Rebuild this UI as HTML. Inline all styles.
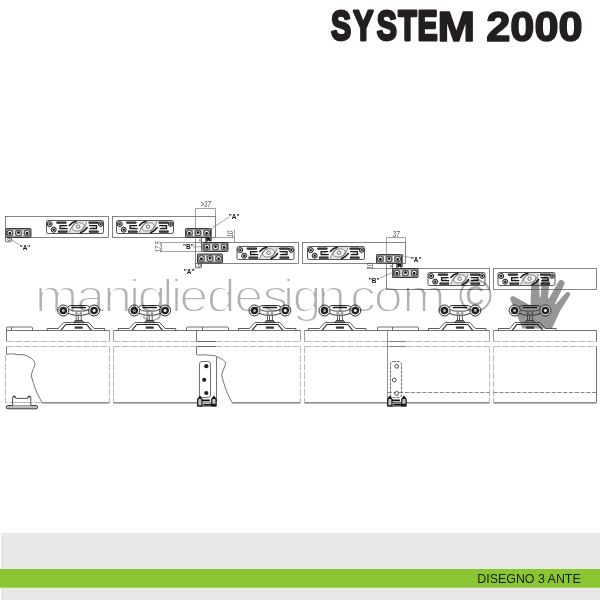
<!DOCTYPE html>
<html lang="it">
<head>
<meta charset="utf-8">
<title>SYSTEM 2000 - Disegno 3 ante</title>
<style>
html,body{margin:0;padding:0;background:#fff;}
body{width:600px;height:600px;overflow:hidden;position:relative;font-family:"Liberation Sans",sans-serif;}
svg{position:absolute;left:0;top:0;display:block;}
text{font-family:"Liberation Sans",sans-serif;}
.ln{fill:none;stroke:#454545;stroke-width:.75;}
.lt{fill:none;stroke:#666;stroke-width:.6;}
.rl{fill:none;stroke:#5c5c5c;stroke-width:.75;}
.ds{fill:none;stroke:#a9a9a9;stroke-width:.8;stroke-dasharray:7 1.5;}
.sl{fill:none;stroke:#888;stroke-width:.8;}
.lab{font-size:6.4px;font-weight:bold;fill:#161616;text-anchor:middle;}
.dim{font-size:8.8px;fill:#555;text-anchor:middle;font-style:italic;}
.wm{fill:#b1b1b1;stroke:#fff;mix-blend-mode:multiply;}
</style>
</head>
<body>
<svg width="600" height="600" viewBox="0 0 600 600" role="img" aria-label="SYSTEM 2000 - disegno 3 ante">
<defs>
<g id="pl">
<rect x="0" y="0" width="57" height="13" rx="1.6" fill="none" stroke="#3a3a3a" stroke-width=".85"/>
<path d="M23.2 12.6 C21.8 8.6 25.8 2.4 30.8 .4 H39.8 C41.4 4.4 37.8 10.4 32.8 12.6 Z" fill="#e2e2e2"/>
<ellipse cx="31.6" cy="6.4" rx="6.2" ry="4" transform="rotate(-14 31.6 6.4)" fill="#f4f4f4" stroke="#555" stroke-width=".6"/>
<path d="M22.8 5 C24.2 3.2 26.8 1.3 29.6 .7" fill="none" stroke="#1a1a1a" stroke-width="1.5" stroke-linecap="round"/>
<path d="M34.2 12.3 C37 11.2 39.2 9.2 40.6 7" fill="none" stroke="#1a1a1a" stroke-width="1.5" stroke-linecap="round"/>
<path d="M22.4 12.2 C23.8 8.6 26.8 4.2 30.8 .6 M32.8 12.6 C36.4 9.6 39.4 5.2 40.4 1" fill="none" stroke="#444" stroke-width=".6"/>
<circle cx="31.6" cy="6.2" r="1.7" fill="#fff" stroke="#333" stroke-width=".7"/>
<g fill="#1a1a1a">
<rect x="9.6" y=".9" width="10.6" height="2.3" rx="1.1"/>
<rect x="11.4" y="9.9" width="9.8" height="2.3" rx=".7"/>
<rect x="41.8" y=".9" width="10.6" height="2.3" rx="1.1"/>
<rect x="42.4" y="9.9" width="9.8" height="2.3" rx=".7"/>
</g>
<path d="M11 2.05 H19 M12.6 11.05 H20 M43 2.05 H51 M43.6 11.05 H51" fill="none" stroke="#777" stroke-width=".4"/>
<path d="M20.6 5.1 H13.6 V8.1 H21.2" fill="none" stroke="#1a1a1a" stroke-width="1.3"/>
<path d="M14 6.6 H18.6" fill="none" stroke="#555" stroke-width=".6"/>
<path d="M42.6 5.1 H50 V8.1 H43.2" fill="none" stroke="#1a1a1a" stroke-width="1.3"/>
<path d="M45 6.6 H49.6" fill="none" stroke="#555" stroke-width=".6"/>
<circle cx="3.2" cy="3.6" r="2.5" fill="#ddd" stroke="#1a1a1a" stroke-width="1"/>
<circle cx="3.2" cy="3.6" r="1.2" fill="#1a1a1a"/>
<circle cx="7.2" cy="9.2" r="2.5" fill="#ddd" stroke="#1a1a1a" stroke-width="1"/>
<circle cx="7.2" cy="9.2" r="1.2" fill="#1a1a1a"/>
<circle cx="54.2" cy="3.6" r="2.3" fill="#ddd" stroke="#1a1a1a" stroke-width="1"/>
<circle cx="54.2" cy="3.6" r="1.1" fill="#1a1a1a"/>
</g>
<g id="br">
<rect x="0" y="0" width="25" height="9" rx=".8" fill="#979797" stroke="#2a2a2a" stroke-width=".9"/>
<rect x="7.5" y="1.5" width="1.3" height="6" fill="#f4f4f4"/>
<rect x="16.2" y="1.5" width="1.3" height="6" fill="#f4f4f4"/>
<circle cx="3.9" cy="4.5" r="2.9" fill="#dedede" stroke="#222" stroke-width=".8"/>
<circle cx="12.5" cy="4.5" r="2.9" fill="#dedede" stroke="#222" stroke-width=".8"/>
<circle cx="21.1" cy="4.5" r="2.9" fill="#dedede" stroke="#222" stroke-width=".8"/>
<circle cx="3.9" cy="4.9" r="1.35" fill="#111"/>
<circle cx="12.5" cy="4.1" r="1.35" fill="#111"/>
<circle cx="21.1" cy="4.9" r="1.35" fill="#111"/>
</g>
<g id="tr">
<path d="M-31.5 20 V18 H-20.5 L-15 12 H10 L15.5 18 H26 V20" fill="none" stroke="#333" stroke-width=".8" stroke-linejoin="round"/>
<path d="M-17.6 19.6 L-13 14 H8 L12.6 19.6" fill="none" stroke="#222" stroke-width="1.1"/>
<rect x="-4" y="16" width="8" height="2.2" fill="#333"/>
<path d="M-2.5 4.6 V10 M2.5 4.6 V10 M-.4 4.6 V10" fill="none" stroke="#333" stroke-width=".8"/>
<path d="M-5.2 12.2 L-3.6 10 H3.6 L5.2 12.2 Z" fill="#777" stroke="#2a2a2a" stroke-width=".8" stroke-linejoin="round"/>
<path d="M-11.4 -3 C-9.6 -4.6 -8.6 -5 -6.6 -5 H6.6 C8.6 -5 9.6 -4.6 11.4 -3 M-11 3 C-8 3.2 -6.6 4.6 -3.6 4.6 H3.6 C6.6 4.6 8 3.2 11 3" fill="none" stroke="#2a2a2a" stroke-width="1"/>
<path d="M-6.6 -3 H6.6" fill="none" stroke="#1a1a1a" stroke-width="1.5" stroke-linecap="round"/>
<path d="M-9.6 -1.4 C-8 .2 -6 .6 -4 .6 H4 C6 .6 8 .2 9.6 -1.4" fill="none" stroke="#333" stroke-width=".9"/>
<path d="M-3.4 2.6 H-1 M1 2.6 H3.4" fill="none" stroke="#222" stroke-width=".9"/>
<circle cx="-15.4" cy="0" r="5.5" fill="#fff" fill-opacity=".6" stroke="#2a2a2a" stroke-width="1"/>
<circle cx="-15.4" cy="0" r="3.8" fill="#222"/>
<circle cx="-15.4" cy="0" r="1.5" fill="#b4b4b4"/>
<circle cx="15.4" cy="0" r="5.5" fill="#fff" fill-opacity=".6" stroke="#2a2a2a" stroke-width="1"/>
<circle cx="15.4" cy="0" r="3.8" fill="#222"/>
<circle cx="15.4" cy="0" r="1.5" fill="#f4f4f4"/>
</g>
<g id="fg">
<path d="M.4 10.2 V3.6 L2.5 .6 L4.7 3.6 V10.2 Z M14.4 10.2 V3.6 L16.6 .6 L18.8 3.6 V10.2 Z" fill="#c4c4c4" stroke="#111" stroke-width="1.2" stroke-linejoin="round"/>
<path d="M1.2 3.2 L2.5 1.2 L3.9 3.2 Z M15.2 3.2 L16.6 1.2 L18 3.2 Z" fill="#111"/>
<path d="M4.7 4.6 H12.6 M6 8.8 H18.4" fill="none" stroke="#111" stroke-width="1.7"/>
<path d="M4.7 6.6 H14.4" fill="none" stroke="#555" stroke-width=".7"/>
<path d="M.4 10.2 H18.8" fill="none" stroke="#111" stroke-width=".9"/>
</g>
</defs>
<rect x="0" y="0" width="600" height="600" fill="#fff"/>
<rect x="1" y="533" width="599" height="67" fill="#eae8e7"/>
<rect x="0" y="569" width="600" height="18.7" fill="#89c632"/>
<text x="477.3" y="583" font-size="12.25" fill="#1c1c1a" textLength="103.4" lengthAdjust="spacingAndGlyphs">DISEGNO 3 ANTE</text>
<text y="40.6" font-size="43.2" font-weight="bold" fill="#231f20" stroke="#231f20" stroke-width="1.6" stroke-linejoin="round" style="mix-blend-mode:multiply"><tspan x="331" y="40.3" dx="0 0 1.6 -1 -2" font-size="41.6" stroke-width="2.8" letter-spacing="2.9" textLength="108.7" lengthAdjust="spacingAndGlyphs">SYSTE</tspan><tspan x="437.4" y="40.6" textLength="37.6" lengthAdjust="spacingAndGlyphs">M</tspan> <tspan x="486.2" textLength="96.4" lengthAdjust="spacingAndGlyphs">2000</tspan></text>
<path d="M522.5 328.5 L510.4 299.6 C509.6 297.4 512 295.4 514.6 296.8 L530.6 305.4 L531.3 279.5 C531.4 275.6 538.8 275.6 539 279.5 L539.6 296.5 L540.6 297.6 L542 279 C542.4 275.2 549.6 275.6 549.6 279.6 L548 297.6 L548.8 298.8 L558.6 281.6 C560.4 278.4 565.6 280.8 564.4 284.2 L555 303.4 L555.6 304.6 L565.8 293 C568 290.8 571.4 292.8 569.8 295.6 L560 311 L552 328.5 Z" fill="#969696"/>
<g class="rl">
<rect x="5.5" y="216.5" width="103" height="21"/>
<rect x="112.5" y="216.5" width="103" height="21"/>
<rect x="195.5" y="242.5" width="103" height="21"/>
<rect x="302.5" y="242.5" width="103" height="21"/>
<rect x="386.5" y="268.5" width="103" height="21"/>
<rect x="493.5" y="268.5" width="103" height="21"/>
</g>
<use href="#pl" x="46.5" y="220.5"/>
<use href="#pl" x="116.5" y="220.5"/>
<use href="#pl" x="237" y="246.5"/>
<use href="#pl" x="307.5" y="246.5"/>
<use href="#pl" x="428" y="272.5"/>
<use href="#pl" x="498" y="272.5"/>
<path class="ln" d="M5.5 237.5 V241 Q5.5 241.8 6.4 241.8 H10.6 Q11.5 241.8 11.5 240.8 V237.5"/>
<circle class="ln" cx="8.9" cy="239.5" r="1.3"/>
<path class="ln" d="M195.5 263.5 V267 Q195.5 267.8 196.4 267.8 H200.6 Q201.5 267.8 201.5 266.8 V263.5"/>
<circle class="ln" cx="199.4" cy="265.5" r="1.3"/>
<path class="ln" d="M201.5 237.5 V252 M211.5 228 V241 M205.5 237.5 V242.5"/>
<path d="M206 237.8 L210.6 238 L210.8 242 L208.4 240.6 L206.6 242.2 Z" fill="#1a1a1a"/>
<rect x="199" y="239.3" width="1.8" height="1.8" fill="#888"/>
<path class="ln" d="M392.5 263.5 V278 M402.5 254 V267 M396.5 263.5 V268.5"/>
<path d="M397 263.8 L401.6 264 L401.8 268 L399.4 266.6 L397.6 268.2 Z" fill="#1a1a1a"/>
<rect x="390" y="265.3" width="1.8" height="1.8" fill="#888"/>
<use href="#br" x="6" y="228.5"/>
<use href="#br" x="185.5" y="228.5"/>
<use href="#br" x="203" y="242.5"/>
<use href="#br" x="197.5" y="254"/>
<use href="#br" x="376.5" y="254.5"/>
<use href="#br" x="393" y="268.5"/>
<g class="lt">
<path d="M195.5 242.5 V208.5 H215.5 V216.5"/>
<path d="M386.5 268.5 V237.5 H405.5 V242.5"/>
<path d="M215.5 237.5 H235 M234.5 230 V242.5"/>
<path d="M161.5 242.5 H195.5 M161.5 251.5 H203 M161.5 242.5 V251.5"/>
<path d="M366.5 263.5 H386.5 M366.5 268.5 H386.5"/>
<path d="M10.6 239.4 L19.4 244.8"/>
<path d="M211.4 228.4 L229.2 217"/>
<path d="M196.6 266.8 L193.6 269.6"/>
<path d="M402.6 255.8 L410.6 257.6"/>
<path d="M380 278 L391.6 272.8"/>
<path d="M193 246.8 L202.6 246.8"/>
</g>
<text class="lab" x="25" y="249.8">"A"</text>
<text class="lab" x="234.2" y="218.6">"A"</text>
<text class="lab" x="188.4" y="249.4">"B"</text>
<text class="lab" x="189.2" y="274.2">"A"</text>
<text class="lab" x="416.2" y="261.8">"A"</text>
<text class="lab" x="374.2" y="282.8">"B"</text>
<text class="dim" transform="translate(205.6 207.4) scale(.7 1)">&gt;37</text>
<text class="dim" transform="translate(396.2 236.6) scale(.7 1)">37</text>
<text class="dim" transform="translate(233.4 234) rotate(-90) scale(.66 1)">10</text>
<text class="dim" transform="translate(160.6 246.8) rotate(-90) scale(.66 1)">17.5</text>
<text class="dim" transform="translate(373 266) rotate(-90) scale(.66 1)">10</text>
<g class="ds">
<path d="M6.5 341.5 H109.5"/>
<path d="M6.5 346.5 H109.5"/>
<path d="M113.5 341.5 H300.5"/>
<path d="M113.5 346.5 H300.5"/>
<path d="M304.5 341.5 H489.5"/>
<path d="M304.5 346.5 H489.5"/>
<path d="M493.5 341.5 H596.5"/>
<path d="M493.5 346.5 H596.5"/>
<path class="sl" stroke-dasharray="none" d="M109.5 330.5 V341.5"/>
<path d="M109.5 346.5 V402.5"/>
<path class="sl" stroke-dasharray="none" d="M113.5 330.5 V341.5"/>
<path d="M113.5 346.5 V402.5"/>
<path class="sl" stroke-dasharray="none" d="M300.5 330.5 V341.5"/>
<path d="M300.5 346.5 V402.5"/>
<path class="sl" stroke-dasharray="none" d="M304.5 330.5 V341.5"/>
<path d="M304.5 346.5 V402.5"/>
<path class="sl" stroke-dasharray="none" d="M489.5 330.5 V341.5"/>
<path d="M489.5 346.5 V402.5"/>
<path class="sl" stroke-dasharray="none" d="M493.5 330.5 V341.5"/>
<path d="M493.5 346.5 V402.5"/>
<path d="M5.5 355 V402.5 H42"/>
<path d="M387.5 392.5 H489.5 M493.5 392.5 H596.5" stroke="#6a6a6a" stroke-dasharray="4.2 1.6"/>
<rect x="390.5" y="361.5" width="11" height="36" rx="2.6" stroke="#4a4a4a" stroke-dasharray="3 1"/>
</g>
<g fill="#fff" stroke="#3a3a3a" stroke-width=".9">
<circle cx="396.7" cy="366.3" r="1.9"/><circle cx="394.3" cy="380" r="1.9"/><circle cx="396.7" cy="393.4" r="1.9"/>
</g>
<g class="ln">
<path d="M6.5 330.5 H109.5 M113.5 330.5 H300.5 M304.5 330.5 H489.5 M493.5 330.5 H596.5"/>
<path d="M6.5 330.5 V341.5 M6.5 346.5 V354.4"/>
<path d="M196.5 330.5 V341.5 H216 M196.5 354.4 V346.5 H216"/>
<path stroke="#707070" d="M387.5 330.5 V402.5 M387.5 341.5 H406 M387.5 346.5 H406"/>
<path d="M596.5 330.5 V341.5 M596.5 346.5 V402.5"/>
<path stroke="#6e6e6e" stroke-width="1.2" d="M42 402.8 H109.5 M113.5 402.8 H197.4 M232 402.8 H300.5 M304.5 402.8 H489.5 M493.5 402.8 H596.5"/>
<path d="M6.5 354.4 C12 352.6 17 355.4 22 354.6 C29 355.6 34 359.6 35 363.4 C34.6 368 30.6 372.6 31.6 377 C32.6 381.6 34.4 385 35.6 389.6 C37.6 394.6 40 398.6 42 402.5"/>
<path d="M196.5 354.4 C199.6 356 203 354.2 207 355 C211 355.8 213 354.6 216.6 356.4 C221 358.6 224.8 360 225.6 363.4 C225 368 221 372.6 222 377 C223 381.6 224.8 385 226 389.6 C228 394.6 230.2 399.4 232.2 402.5"/>
<path d="M216.5 357 V401.6"/>
<path d="M6.5 330.5 V328 Q6.5 327 7.5 327 H31.5 Q32.5 327 32.5 328 V330.5 M11.5 327 V330.5"/>
<path d="M186.5 330.5 V328 Q186.5 327 187.5 327 H227.5 Q228.5 327 228.5 328 V330.5 M202.5 327 V330.5"/>
<path d="M377.5 330.5 V328 Q377.5 327 378.5 327 H417.5 Q418.5 327 418.5 328 V330.5 M392.5 327 V330.5"/>
<rect x="199.5" y="361.5" width="11" height="36" rx="2.4" fill="#fff"/>
</g>
<g fill="#222">
<circle cx="206.3" cy="366.2" r="2.1"/><circle cx="204.2" cy="379.8" r="2.1"/><circle cx="206.3" cy="393" r="2.1"/>
</g>
<g>
<rect x="6.2" y="405.6" width="31.4" height="3.2" rx="1.6" fill="#d8d8d8" stroke="#222" stroke-width=".9"/>
<path d="M7.6 407.2 H36.2" stroke="#666" stroke-width=".6" stroke-dasharray="1.2 .8" fill="none"/>
<path d="M12.6 405.4 V397.4 Q12.6 395.9 14.2 395.9 Q15.8 395.9 15.8 398.4 H27.6 Q27.6 395.9 29.2 395.9 Q30.8 395.9 30.8 397.4 V405.4" fill="#fff" stroke="#333" stroke-width=".85"/>
<path d="M13.2 397.6 Q13.2 396.2 14.3 396.2 Q15.4 396.2 15.4 397.6 Z M28 397.6 Q28 396.2 29.2 396.2 Q30.3 396.2 30.3 397.6 Z" fill="#222"/>
<path d="M13 402.5 H30.5" stroke="#999" stroke-width=".7" fill="none"/>
<use href="#fg" x="197.3" y="395.8"/>
<use href="#fg" x="387.3" y="395.8"/>
</g>
<use href="#tr" x="78.7" y="310.5"/>
<use href="#tr" x="149.7" y="310.5"/>
<use href="#tr" x="269.9" y="310.5"/>
<use href="#tr" x="339.9" y="310.5"/>
<use href="#tr" x="459.9" y="310.5"/>
<use href="#tr" x="530" y="310.5"/>
<text class="wm" transform="scale(1.15 1)" x="30.19 66.06 89.58 111.93 119.63 140.84 148.45 155.89 179.8 203.71 228.26 245.84 254.41 275.67 298.45 304.41 325.02 349.76" y="312.3" font-size="45.4" stroke-width="1.8">manigliedesign.com</text>
<text class="wm" x="458.77" y="312.3" font-size="45.4" stroke-width="0">©</text>
</svg>
</body>
</html>
